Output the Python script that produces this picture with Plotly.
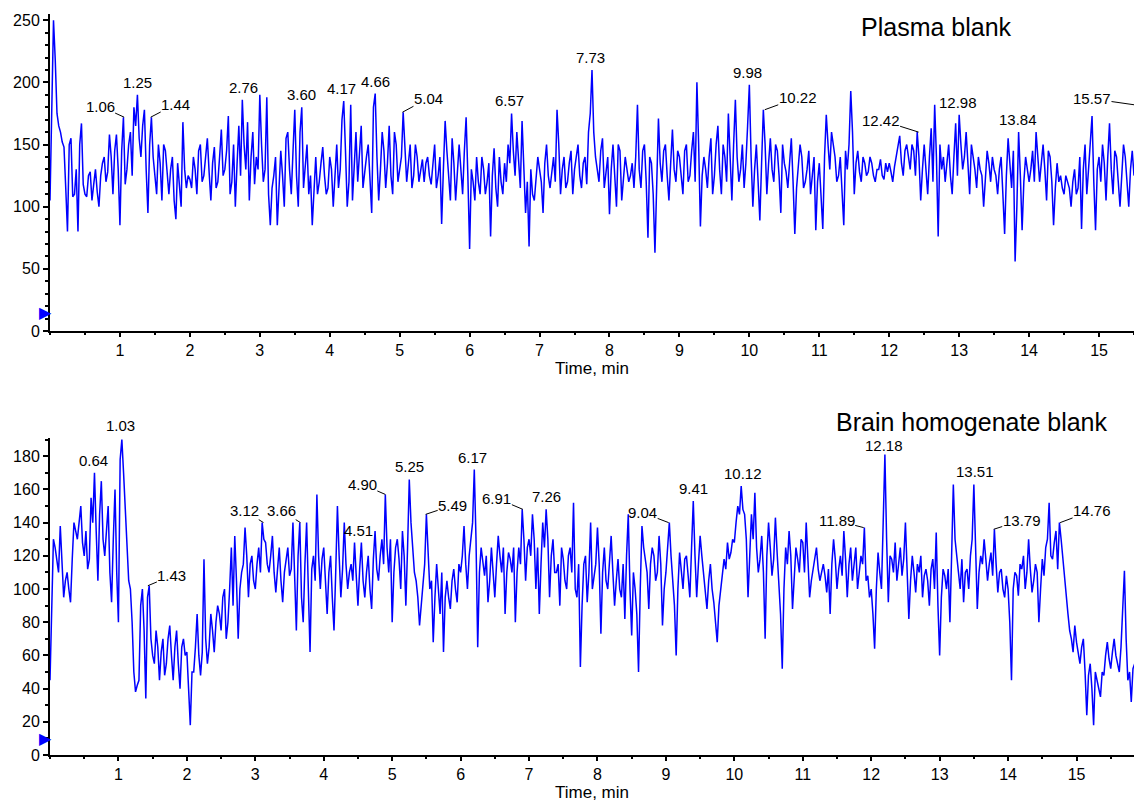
import numpy as np
import plotly.graph_objects as go

# ---------------- data ----------------
# main samples every 0.05 min starting at 0.00; "mid" samples sit half-way (0.025, 0.075, ...)
step = 0.05
plasma = [
    105, 250, 175, 160, 148, 80, 155, 110, 80, 167, 110, 125, 105, 130, 100, 135, 120, 158, 110, 158,
    85, 172, 130, 160, 180, 190, 140, 178, 95, 172, 125, 150, 105, 145, 110, 140, 90, 120, 168, 115,
    122, 140, 110, 150, 125, 155, 105, 148, 120, 162, 130, 173, 120, 100, 165, 186, 130, 105, 160, 140,
    190, 120, 188, 85, 125, 85, 145, 100, 160, 110, 178, 100, 180, 130, 110, 85, 140, 120, 148, 110,
    140, 100, 150, 130, 185, 100, 182, 140, 120, 165, 130, 150, 95, 191, 105, 160, 115, 165, 110, 150,
    130, 176, 120, 150, 125, 140, 130, 120, 140, 118, 150, 125, 86, 169, 120, 155, 105, 150, 110, 172,
    66, 120, 140, 110, 130, 120, 76, 147, 100, 120, 135, 150, 175, 125, 140, 169, 95, 68, 110, 125,
    130, 95, 150, 115, 140, 178, 110, 140, 120, 145, 130, 150, 115, 140, 160, 210, 140, 120, 155, 130,
    94, 150, 100, 145, 120, 130, 125, 115, 182, 115, 150, 75, 135, 63, 171, 120, 150, 105, 162, 120,
    140, 110, 150, 125, 160, 200, 84, 140, 115, 155, 125, 165, 110, 140, 175, 105, 186, 120, 150, 135,
    198, 100, 150, 89, 178, 110, 155, 120, 145, 95, 135, 115, 155, 78, 130, 140, 120, 145, 125, 81,
    135, 82, 174, 130, 150, 120, 140, 85, 130, 193, 110, 145, 120, 135, 128, 135, 120, 130, 125, 135,
    135, 120, 140, 157, 125, 150, 130, 145, 160, 105, 150, 110, 163, 182, 76, 130, 120, 150, 110, 167,
    174, 130, 160, 110, 140, 115, 130, 100, 145, 120, 130, 110, 140, 78, 155, 115, 56, 160, 81, 140,
    120, 145, 160, 120, 150, 105, 140, 85, 135, 125, 110, 120, 100, 130, 115, 82, 150, 130, 173, 81,
    140, 150, 105, 167, 110, 140, 100, 150, 120, 130, 125,
]
plasma_mid = [
    180, 218, 165, 152, 115, 150, 108, 130, 150, 118, 108, 128, 118, 112, 125, 140, 128, 140, 145, 130,
    145, 118, 150, 125, 165, 155, 165, 130, 150, 140, 110, 135, 150, 125, 130, 105, 135, 100, 130, 125,
    115, 130, 145, 120, 140, 128, 135, 115, 140, 125, 145, 110, 150, 135, 125, 150, 168, 140, 118, 130,
    150, 130, 110, 115, 140, 115, 125, 155, 130, 145, 125, 160, 115, 150, 125, 120, 110, 135, 125, 115,
    130, 125, 115, 170, 145, 120, 105, 160, 140, 115, 140, 125, 180, 140, 130, 145, 135, 125, 160, 120,
    140, 145, 135, 115, 150, 120, 138, 135, 125, 135, 115, 140, 130, 145, 105, 135, 125, 130, 145, 125,
    130, 105, 120, 140, 110, 135, 125, 115, 140, 110, 120, 135, 145, 160, 115, 130, 120, 130, 105, 140,
    120, 135, 125, 130, 120, 150, 130, 115, 135, 110, 140, 125, 135, 118, 175, 160, 130, 145, 115, 140,
    130, 125, 150, 105, 140, 120, 135, 140, 130, 145, 120, 140, 110, 130, 135, 145, 125, 135, 130, 145,
    125, 145, 120, 145, 120, 150, 125, 130, 140, 110, 150, 130, 150, 120, 140, 150, 140, 130, 115, 165,
    140, 130, 120, 135, 150, 135, 130, 150, 125, 150, 128, 135, 120, 115, 150, 115, 130, 110, 140, 120,
    110, 140, 150, 160, 140, 125, 110, 145, 150, 160, 135, 128, 140, 125, 140, 125, 130, 138, 122, 128,
    128, 132, 150, 135, 145, 140, 150, 125, 140, 130, 130, 140, 120, 140, 150, 140, 135, 125, 140, 125,
    150, 140, 135, 150, 130, 140, 125, 120, 135, 140, 125, 130, 110, 125, 135, 145, 100, 125, 120, 130,
    130, 120, 140, 135, 130, 145, 120, 115, 120, 115, 125, 115, 120, 110, 140, 130, 110, 150, 120, 130,
    120, 135, 140, 130, 145, 120, 125, 140, 100, 145,
]
brain = [
    45, 130, 118, 138, 95, 110, 92, 140, 130, 150, 120, 112, 155, 170, 105, 165, 120, 150, 92, 160,
    80, 190, 150, 105, 80, 38, 45, 100, 34, 102, 60, 75, 45, 70, 55, 78, 45, 75, 40, 70,
    62, 18, 50, 85, 48, 118, 55, 85, 62, 90, 75, 100, 80, 125, 132, 70, 110, 137, 95, 120,
    100, 125, 140, 128, 110, 132, 98, 125, 92, 118, 108, 140, 75, 140, 80, 140, 62, 120, 157, 100,
    125, 85, 120, 75, 150, 95, 140, 100, 115, 128, 90, 128, 95, 120, 88, 135, 105, 130, 157, 110,
    80, 125, 118, 135, 90, 166, 125, 105, 78, 100, 145, 100, 68, 115, 85, 62, 105, 88, 112, 92,
    110, 138, 100, 130, 172, 65, 125, 108, 92, 125, 95, 132, 110, 85, 122, 110, 80, 125, 148, 105,
    130, 145, 100, 85, 140, 148, 95, 130, 110, 90, 118, 100, 125, 152, 95, 53, 115, 92, 140, 108,
    137, 73, 125, 100, 132, 90, 118, 95, 82, 145, 72, 100, 50, 138, 118, 88, 125, 105, 132, 78,
    110, 140, 105, 60, 122, 100, 120, 95, 153, 95, 132, 108, 88, 115, 92, 68, 100, 118, 128, 122,
    128, 150, 162, 145, 95, 145, 158, 110, 132, 70, 140, 108, 143, 100, 52, 125, 135, 88, 125, 110,
    128, 140, 95, 112, 125, 105, 115, 98, 85, 130, 100, 120, 135, 95, 125, 115, 100, 120, 137, 108,
    100, 64, 122, 100, 181, 92, 118, 128, 115, 108, 140, 82, 120, 98, 110, 95, 112, 90, 118, 134,
    60, 112, 100, 80, 163, 118, 100, 92, 112, 120, 163, 88, 120, 130, 105, 122, 136, 98, 112, 95,
    100, 45, 110, 96, 112, 100, 130, 98, 115, 80, 118, 125, 152, 118, 135, 140, 118, 95, 75, 62,
    68, 55, 70, 24, 55, 18, 45, 35, 48, 68, 52, 70, 55, 65, 111, 45, 32, 55,
]
brain_mid = [
    88, 125, 110, 120, 105, 100, 118, 135, 140, 128, 135, 118, 140, 135, 145, 130, 135, 110, 130, 110,
    178, 170, 125, 100, 50, 42, 90, 75, 95, 70, 55, 65, 62, 48, 70, 60, 65, 55, 65, 60,
    40, 50, 65, 60, 62, 70, 65, 75, 80, 85, 95, 70, 100, 90, 105, 100, 115, 120, 115, 105,
    115, 110, 130, 115, 120, 110, 112, 105, 110, 125, 112, 108, 120, 95, 115, 100, 112, 105, 120, 118,
    105, 110, 95, 110, 120, 112, 115, 110, 105, 108, 112, 105, 110, 100, 118, 112, 120, 115, 125, 130,
    110, 130, 100, 120, 125, 140, 110, 95, 90, 115, 120, 105, 95, 100, 110, 95, 95, 105, 100, 115,
    120, 115, 120, 140, 130, 110, 115, 120, 105, 110, 115, 120, 125, 110, 118, 125, 110, 115, 130, 125,
    120, 130, 125, 115, 125, 130, 120, 110, 115, 125, 105, 120, 110, 100, 115, 90, 120, 110, 100, 115,
    115, 110, 105, 120, 110, 105, 100, 115, 120, 100, 110, 85, 100, 125, 110, 115, 120, 110, 115, 100,
    125, 120, 90, 100, 110, 118, 108, 125, 120, 115, 120, 100, 105, 100, 80, 90, 110, 112, 118, 130,
    140, 145, 148, 130, 120, 130, 125, 118, 110, 120, 125, 118, 122, 85, 100, 115, 120, 110, 118, 130,
    110, 118, 105, 118, 112, 110, 108, 112, 115, 118, 112, 108, 118, 115, 105, 125, 110, 115, 105, 95,
    85, 100, 110, 140, 130, 120, 110, 105, 125, 118, 115, 105, 110, 115, 120, 108, 105, 112, 100, 90,
    95, 108, 112, 120, 130, 110, 118, 110, 100, 130, 120, 110, 115, 118, 115, 108, 115, 110, 100, 108,
    80, 100, 108, 115, 120, 110, 112, 105, 110, 100, 108, 130, 120, 128, 112, 130, 105, 85, 70, 78,
    60, 65, 50, 48, 40, 50, 42, 50, 60, 58, 62, 60, 50, 85, 70, 50, 52,
]


def merge(main, mid):
    t = np.concatenate([np.arange(len(main)) * step, np.arange(len(mid)) * step + step / 2])
    v = np.concatenate([np.asarray(main, float), np.asarray(mid, float)])
    order = np.argsort(t, kind="stable")
    return np.round(t[order], 3), v[order]


t_plasma, y_plasma = merge(plasma, plasma_mid)
t_brain, y_brain = merge(brain, brain_mid)

# peak labels: (time, intensity) ; label text is the time
plasma_peak_t = [1.06, 1.25, 1.44, 2.76, 3.60, 4.17, 4.66, 5.04, 6.57, 7.73, 9.98, 10.22, 12.42, 12.98, 13.84, 15.57]
plasma_peak_v = [172, 190, 172, 186, 180, 185, 191, 176, 175, 210, 198, 178, 160, 174, 160, 182]
brain_peak_t = [0.64, 1.03, 1.43, 3.12, 3.66, 4.51, 4.90, 5.25, 5.49, 6.17, 6.91, 7.26, 9.04, 9.41,
                10.12, 11.89, 12.18, 13.51, 13.79, 14.76]
brain_peak_v = [170, 191, 102, 140, 140, 128, 157, 166, 145, 172, 148, 148, 140, 153,
                162, 137, 179, 163, 136, 140]

x_ticks = list(range(1, 16))
titles = ["Plasma blank", "Brain homogenate blank"]
x_title = "Time, min"

# ---------------- style / layout ----------------
# label offsets in pixels (ax, ay); None = plain label above the peak
plasma_off = [(-24, -11), None, (25, -13), None, None, None, None, (26, -14), None, None, None,
              (33, -12), (-38, -12), None, None, (-42, -6)]
brain_off = [None, None, (24, -10), (-19, -12), (-19, -12), None, (-23, -10), None, (27, -9), None,
             (-26, -11), None, (-26, -10), None, None, (-27, -7), None, None, (28, -9), (32, -12)]

BLUE = "#0000ff"
FONT = "Liberation Sans, Arial, sans-serif"

fig = go.Figure()
fig.add_trace(go.Scatter(x=t_plasma, y=y_plasma, mode="lines", line=dict(color=BLUE, width=1.5),
                         xaxis="x", yaxis="y", showlegend=False, hoverinfo="skip"))
fig.add_trace(go.Scatter(x=t_brain, y=y_brain, mode="lines", line=dict(color=BLUE, width=1.5),
                         xaxis="x2", yaxis="y2", showlegend=False, hoverinfo="skip"))

axis_common = dict(showline=True, linecolor="black", linewidth=2, ticks="outside", tickcolor="black",
                   tickwidth=1.5, showgrid=False, zeroline=False,
                   tickfont=dict(family=FONT, size=16, color="black"))

x_range_top = [0, 15.5]
x_range_bot = [0, 15.84]

fig.update_layout(
    width=1134, height=804,
    margin=dict(l=50, r=0, t=14, b=49),
    paper_bgcolor="white", plot_bgcolor="white",
    font=dict(family=FONT, color="black"),
    xaxis=dict(domain=[0, 1], range=x_range_top, anchor="y", tickvals=x_ticks, ticklen=4,
               minor=dict(dtick=0.5, tick0=0, ticklen=2, tickcolor="black", ticks="outside"),
               title=dict(text=x_title, font=dict(family=FONT, size=17), standoff=4), **axis_common),
    yaxis=dict(domain=[0.5722, 1], range=[0, 255], anchor="x", dtick=50, tick0=0, ticklen=5,
               minor=dict(dtick=10, tick0=0, ticklen=3, tickcolor="black", ticks="outside"), **axis_common),
    xaxis2=dict(domain=[0, 1], range=x_range_bot, anchor="y2", tickvals=x_ticks, ticklen=4,
                minor=dict(dtick=0.5, tick0=0, ticklen=2, tickcolor="black", ticks="outside"),
                title=dict(text=x_title, font=dict(family=FONT, size=17), standoff=4), **axis_common),
    yaxis2=dict(domain=[0, 0.4278], range=[0, 191], anchor="x2", dtick=20, tick0=0, ticklen=5,
                minor=dict(dtick=10, tick0=0, ticklen=3, tickcolor="black", ticks="outside"), **axis_common),
)

ann = []


def add_labels(ts, vs, offs, xref, yref, xmax):
    for t, v, off in zip(ts, vs, offs):
        txt = f"{t:.2f}"
        tx = min(t, xmax)
        if off is None:
            ann.append(dict(x=tx, y=v, xref=xref, yref=yref, text=txt, showarrow=False,
                            xanchor="center", yanchor="bottom", yshift=2,
                            font=dict(family=FONT, size=15, color="black")))
        else:
            ann.append(dict(x=tx, y=v, xref=xref, yref=yref, text=txt, showarrow=True, arrowhead=0,
                            arrowwidth=1, arrowcolor="black", ax=off[0], ay=off[1], standoff=0,
                            borderpad=0, font=dict(family=FONT, size=15, color="black")))


add_labels(plasma_peak_t, plasma_peak_v, plasma_off, "x", "y", x_range_top[1])
add_labels(brain_peak_t, brain_peak_v, brain_off, "x2", "y2", x_range_bot[1])

ann.append(dict(x=0.818, y=0.982, xref="paper", yref="paper", text=titles[0], showarrow=False,
                xanchor="center", yanchor="middle", font=dict(family=FONT, size=25, color="black")))
ann.append(dict(x=0.851, y=0.449, xref="paper", yref="paper", text=titles[1], showarrow=False,
                xanchor="center", yanchor="middle", font=dict(family=FONT, size=25, color="black")))

# blue start markers on the y axes
ann.append(dict(x=0, y=15, xref="x", yref="y", text="▶", showarrow=False, xanchor="right", xshift=4,
                font=dict(size=16, color=BLUE)))
ann.append(dict(x=0, y=10, xref="x2", yref="y2", text="▶", showarrow=False, xanchor="right", xshift=4,
                font=dict(size=16, color=BLUE)))

fig.update_layout(annotations=ann)
fig.write_html("out.html")
